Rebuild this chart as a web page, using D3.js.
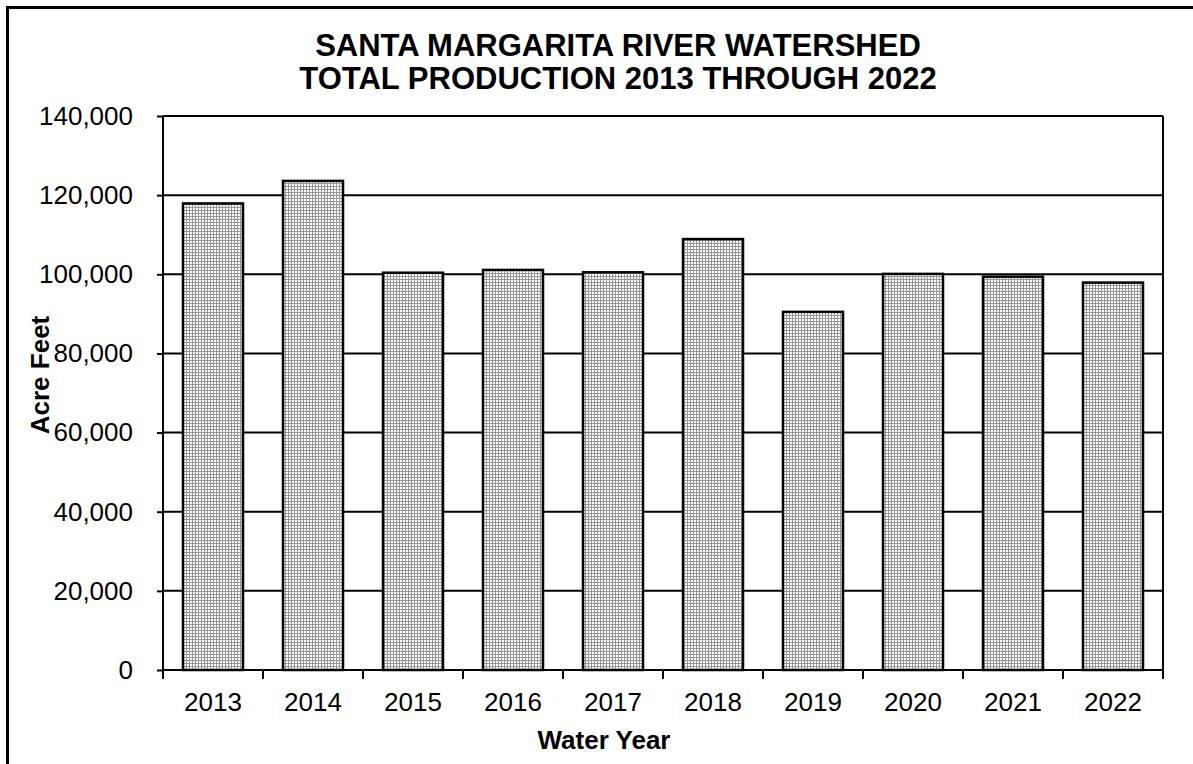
<!DOCTYPE html>
<html>
<head>
<meta charset="utf-8">
<script src="https://cdn.jsdelivr.net/npm/d3@7"></script>
<style>
  html, body { margin: 0; padding: 0; background: #fff; }
  svg { display: block; font-family: "Liberation Sans", Arial, sans-serif; }
</style>
</head>
<body>
<svg id="chart" width="1193" height="764"></svg>
<script>
// Water years and total production (acre feet)
const years = ["2013", "2014", "2015", "2016", "2017", "2018", "2019", "2020", "2021", "2022"];
const production = [117900, 123600, 100400, 101100, 100500, 108900, 90500, 100100, 99400, 97900];
const yTicks = [0, 20000, 40000, 60000, 80000, 100000, 120000, 140000];
const titleLines = ["SANTA MARGARITA RIVER WATERSHED", "TOTAL PRODUCTION 2013 THROUGH 2022"];

const svg = d3.select("#chart");
const plot = { left: 163, right: 1163, top: 116, bottom: 670 };

const x = d3.scaleBand().domain(years).range([plot.left, plot.right]).paddingInner(0.4).paddingOuter(0.2);
const xEdges = d3.scaleLinear().domain([0, years.length]).range([plot.left, plot.right]);
const y = d3.scaleLinear().domain([0, 140000]).range([plot.bottom, plot.top]);

// Dotted grey fill used for the bars
const defs = svg.append("defs");
const pat = defs.append("pattern").attr("id", "dots")
  .attr("patternUnits", "userSpaceOnUse").attr("width", 3).attr("height", 3);
pat.append("rect").attr("width", 3).attr("height", 3).attr("fill", "#979797");
pat.append("rect").attr("x", 1).attr("y", 1).attr("width", 2).attr("height", 2).attr("fill", "#ffffff");

// Outer chart frame
svg.append("rect").attr("x", 7.5).attr("y", 7.5).attr("width", 1250).attr("height", 800)
  .attr("fill", "none").attr("stroke", "#000").attr("stroke-width", 3);

// Title
svg.append("g").selectAll("text").data(titleLines).join("text")
  .attr("x", 618).attr("y", (d, i) => 56 + i * 33)
  .attr("text-anchor", "middle").attr("font-size", 31).attr("font-weight", "bold")
  .text(d => d);

// Horizontal gridlines
svg.append("g").selectAll("line").data(yTicks.filter(t => t > 0)).join("line")
  .attr("x1", plot.left).attr("x2", plot.right)
  .attr("y1", d => y(d)).attr("y2", d => y(d))
  .attr("stroke", "#000").attr("stroke-width", 2);

// Right border of plot area
svg.append("line").attr("x1", plot.right).attr("x2", plot.right)
  .attr("y1", plot.top).attr("y2", plot.bottom)
  .attr("stroke", "#000").attr("stroke-width", 2);

// Bars
svg.append("g").selectAll("rect").data(years).join("rect")
  .attr("x", d => x(d)).attr("width", x.bandwidth())
  .attr("y", (d, i) => y(production[i]))
  .attr("height", (d, i) => y(0) - y(production[i]))
  .attr("fill", "url(#dots)").attr("stroke", "#000").attr("stroke-width", 2.5);

// Y axis
const yAxis = svg.append("g").attr("transform", `translate(${plot.left},0)`)
  .call(d3.axisLeft(y).tickValues(yTicks).tickSize(6).tickPadding(24)
    .tickFormat(d => d3.format(",")(d)));
yAxis.select(".domain").attr("stroke", "#000").attr("stroke-width", 2).attr("d", `M0,${plot.top}V${plot.bottom}`);
yAxis.selectAll(".tick line").attr("stroke", "#000").attr("stroke-width", 2);
yAxis.selectAll(".tick text").attr("font-size", 26).attr("font-family", "Liberation Sans, Arial, sans-serif").attr("fill", "#000");

// X axis: baseline, ticks at category edges, labels centred on bars
const xAxis = svg.append("g").attr("transform", `translate(0,${plot.bottom})`);
xAxis.append("line").attr("x1", plot.left).attr("x2", plot.right)
  .attr("stroke", "#000").attr("stroke-width", 2);
xAxis.selectAll(".edge").data(d3.range(years.length + 1)).join("line").attr("class", "edge")
  .attr("x1", d => xEdges(d)).attr("x2", d => xEdges(d)).attr("y1", 0).attr("y2", 9)
  .attr("stroke", "#000").attr("stroke-width", 2);
xAxis.selectAll(".lbl").data(years).join("text").attr("class", "lbl")
  .attr("x", d => x(d) + x.bandwidth() / 2).attr("y", 41)
  .attr("text-anchor", "middle").attr("font-size", 26).text(d => d);

// Axis titles
svg.append("text").attr("x", 604).attr("y", 749).attr("text-anchor", "middle")
  .attr("font-size", 26).attr("font-weight", "bold").text("Water Year");
svg.append("text").attr("transform", "translate(49,375) rotate(-90)").attr("text-anchor", "middle")
  .attr("font-size", 26).attr("font-weight", "bold").text("Acre Feet");
</script>
</body>
</html>
